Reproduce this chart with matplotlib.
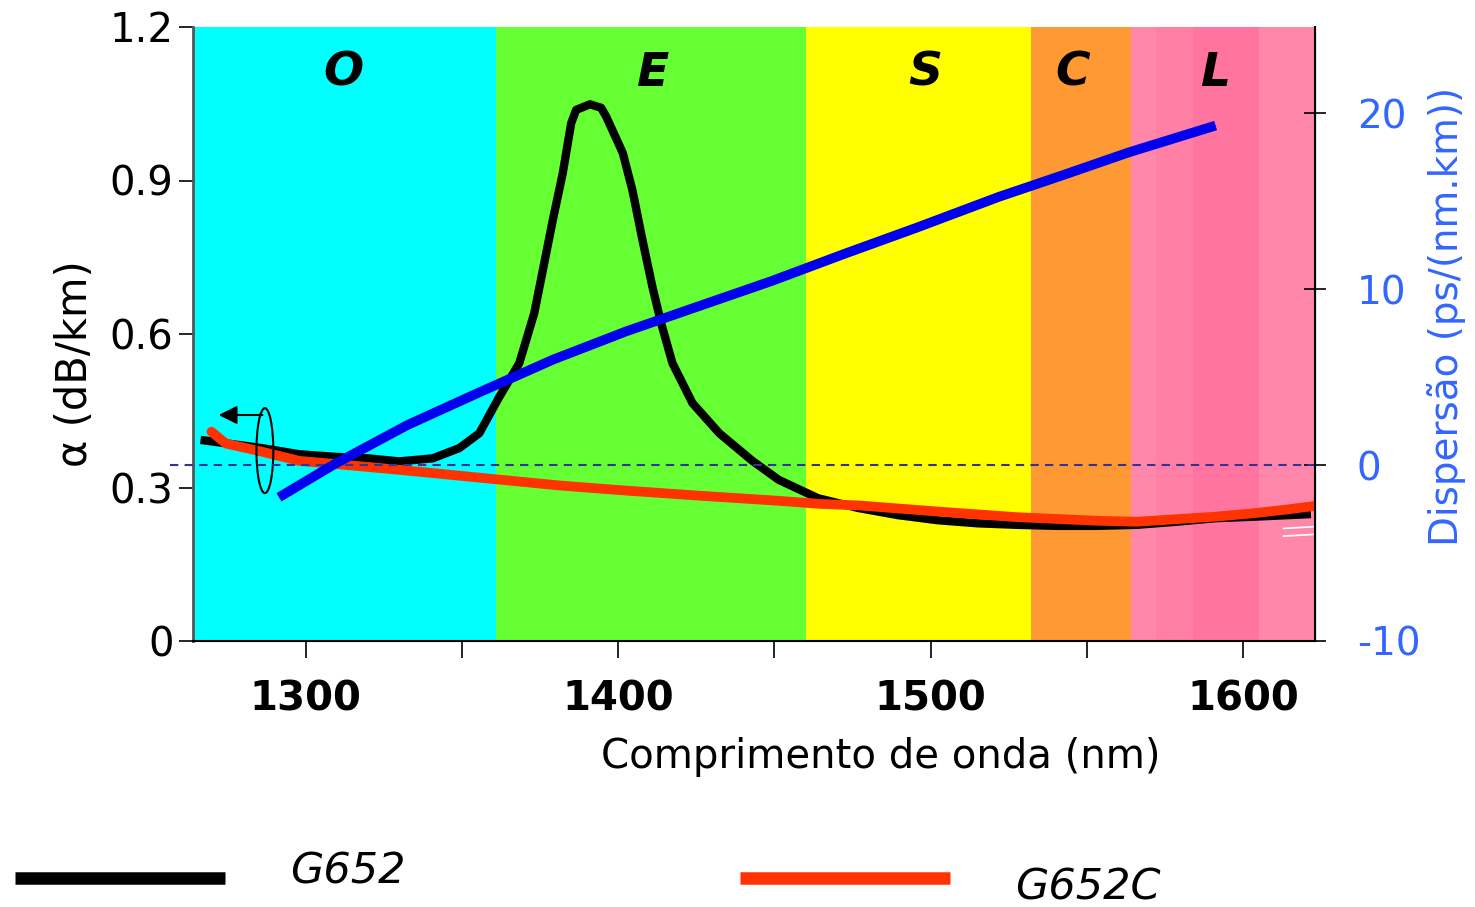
import matplotlib
matplotlib.use("Agg")
import matplotlib.pyplot as plt
from matplotlib.lines import Line2D
from matplotlib.patches import Ellipse

# ---- data ----
band_names = ["O", "E", "S", "C", "L"]
band_edges = [1260, 1361, 1460, 1532, 1564, 1625]
band_colors = ["#00FFFF", "#66FF33", "#FFFF00", "#FF9933", "#FF88AA"]

g652_wl = [1266.4, 1286.1, 1298.0, 1309.4, 1320.0, 1330.0, 1340.7, 1349.2, 1355.6, 1362.0,
           1368.4, 1373.2, 1376.4, 1379.1, 1382.3, 1385.0, 1386.6, 1391.0, 1394.6, 1396.2,
           1401.5, 1404.6, 1407.8, 1411.0, 1413.8, 1417.4, 1423.8, 1432.4, 1443.0, 1451.4,
           1464.0, 1476.8, 1489.5, 1502.3, 1515.0, 1527.7, 1540.4, 1553.1, 1565.9, 1578.5,
           1591.2, 1603.9, 1621.7]
g652_att = [0.393, 0.377, 0.365, 0.360, 0.357, 0.351, 0.357, 0.377, 0.406, 0.477,
            0.543, 0.641, 0.739, 0.822, 0.914, 1.012, 1.038, 1.049, 1.042, 1.025,
            0.954, 0.881, 0.784, 0.692, 0.621, 0.543, 0.465, 0.406, 0.352, 0.315,
            0.279, 0.260, 0.246, 0.236, 0.230, 0.227, 0.225, 0.225, 0.227, 0.233,
            0.240, 0.243, 0.248]

g652c_wl = [1269.9, 1274.5, 1286.1, 1298.0, 1309.4, 1332.6, 1356.0, 1381.2, 1402.5, 1426.0,
            1451.4, 1464.4, 1476.8, 1502.3, 1527.7, 1553.1, 1565.9, 1578.5, 1591.2, 1603.9,
            1614.0, 1623.0]
g652c_att = [0.409, 0.386, 0.370, 0.352, 0.346, 0.333, 0.319, 0.304, 0.294, 0.284,
             0.274, 0.268, 0.265, 0.253, 0.242, 0.235, 0.233, 0.238, 0.243, 0.250,
             0.257, 0.264]

disp_wl = [1291.5, 1309.4, 1332.6, 1356.0, 1379.2, 1402.5, 1425.7, 1449.0, 1472.2, 1495.5,
           1521.9, 1542.0, 1563.5, 1591.2]
disp_val = [-1.83, 0.07, 2.28, 4.17, 6.0, 7.6, 9.03, 10.46, 12.0, 13.5,
            15.26, 16.47, 17.79, 19.31]

left_ticks = [0, 0.3, 0.6, 0.9, 1.2]
left_ticklabels = ["0", "0.3", "0.6", "0.9", "1.2"]
right_ticks = [-10, 0, 10, 20]
x_major = [1300, 1400, 1500, 1600]
x_minor = [1350, 1450, 1550]

legend_labels = ["G652", "G652C"]
line_colors = ["#000000", "#FF3300"]
disp_color = "#0000EE"
label_blue = "#3366FF"

# ---- figure ----
fig = plt.figure(figsize=(14.75, 9.07), dpi=100)
ax = fig.add_axes([193/1475, 1-641/907, (1315-193)/1475, (641-27)/907])
ax.set_xlim(1264, 1623)
ax.set_ylim(0, 1.2)

for i, name in enumerate(band_names):
    ax.axvspan(band_edges[i], band_edges[i+1], color=band_colors[i], lw=0, zorder=0)
# shading inside L band
ax.axvspan(1572, 1584, color="#FF7FA5", lw=0, zorder=0)
ax.axvspan(1584, 1605, color="#FF75A0", lw=0, zorder=0)

label_x = [1312, 1411.3, 1498.3, 1545.5, 1591.3]
for name, lx in zip(band_names, label_x):
    ax.text(lx, 1.11, name, fontsize=34, fontweight="bold", fontstyle="italic",
            ha="center", va="center", zorder=5)

ax.plot(g652_wl, g652_att, color=line_colors[0], lw=6, solid_capstyle="butt",
        solid_joinstyle="round", zorder=3)
ax.plot(g652c_wl, g652c_att, color=line_colors[1], lw=7, solid_capstyle="round",
        solid_joinstyle="round", zorder=4)

# annotation ellipse + arrow
ax.add_patch(Ellipse((1287.0, 0.372), 5.4, 0.166, fill=False, lw=1.5, ec="black", zorder=6))
ax.annotate("", xy=(1272.2, 0.4417), xytext=(1286.2, 0.4417),
            arrowprops=dict(arrowstyle="-|>", color="black", lw=1.5, mutation_scale=28,
                            shrinkA=0, shrinkB=0), zorder=6)

ax.set_xticks(x_major)
ax.set_xticks(x_minor, minor=True)
ax.set_xticklabels([str(v) for v in x_major], fontsize=29, fontweight="bold")
ax.tick_params(axis="x", which="both", direction="out", length=12, width=1.2, pad=16)
ax.set_yticks(left_ticks)
ax.set_yticklabels(left_ticklabels, fontsize=29)
ax.tick_params(axis="y", direction="out", length=10, width=1.2, pad=4)
ax.set_xlabel("Comprimento de onda (nm)", fontsize=29)
ax.xaxis.set_label_coords((881-193)/1122, -(757-641)/614, transform=ax.transAxes)
ax.set_ylabel("α (dB/km)", fontsize=30)
ax.yaxis.set_label_coords(-(193-75)/1122, (641-364)/614, transform=ax.transAxes)
ax.xaxis.label.set_va("center")
ax.yaxis.label.set_va("center")
ax.spines["top"].set_visible(False)
ax.spines["left"].set_color("#555555")
ax.spines["left"].set_linewidth(2)
ax.spines["bottom"].set_linewidth(1.5)

ax2 = ax.twinx()
ax2.set_ylim(-10, 10*(463-27)/175)
ax2.plot(disp_wl, disp_val, color=disp_color, lw=7, solid_capstyle="butt",
         solid_joinstyle="round", zorder=5)
ax2.plot([1256.5, 1623], [0, 0], ls=(0, (4, 3)), color="#333399", lw=1.5, clip_on=False, zorder=2)
ax2.set_yticks(right_ticks)
ax2.set_yticklabels([str(v) for v in right_ticks], fontsize=28, color=label_blue)
ax2.tick_params(axis="y", direction="inout", length=16, width=1.2, pad=22)
ax2.set_ylabel("Dispersão (ps/(nm.km))", fontsize=28, color=label_blue)
ax2.yaxis.set_label_coords(1 + (1447-1315)/1122, (641-316)/614, transform=ax.transAxes)
ax2.yaxis.label.set_va("center")
ax2.spines["top"].set_visible(False)
ax2.spines["left"].set_visible(False)
ax2.spines["bottom"].set_visible(False)
ax2.spines["right"].set_linewidth(1.5)

# white double dash marks
for yy in (0.22, 0.205):
    ax.plot([1613, 1624.5], [yy, yy+0.004], color="white", lw=1.2, zorder=6, clip_on=True)

# legend (bottom)
fig.add_artist(Line2D([15/1475, 225/1475], [1-878/907]*2, color=line_colors[0], lw=9,
                      solid_capstyle="butt"))
fig.add_artist(Line2D([740/1475, 950/1475], [1-878/907]*2, color=line_colors[1], lw=9,
                      solid_capstyle="butt"))
fig.text(290/1475, 1-872/907, legend_labels[0], fontsize=31, fontstyle="italic", va="center")
fig.text(1015/1475, 1-887/907, legend_labels[1], fontsize=31, fontstyle="italic", va="center")

fig.savefig("out.png", dpi=100)
